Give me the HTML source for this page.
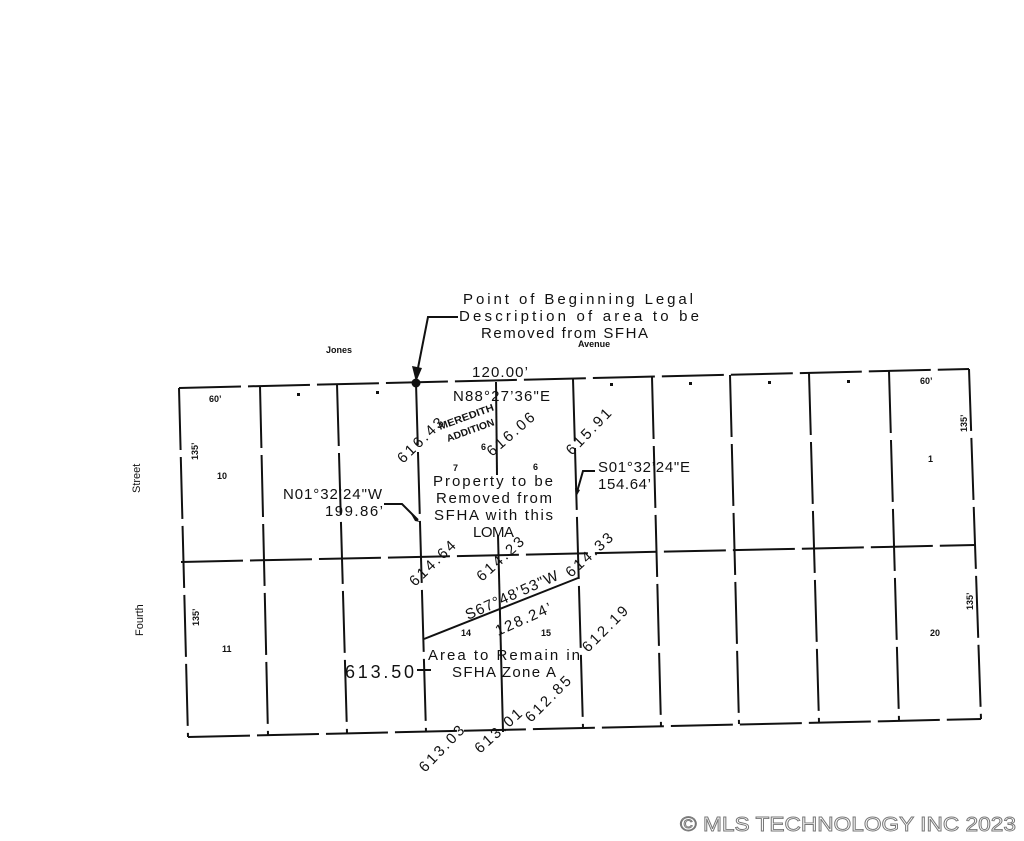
<!DOCTYPE html>
<html><head><meta charset="utf-8"><style>
html,body{margin:0;padding:0;background:#fff;}
svg{display:block;}
text{font-family:"Liberation Sans",sans-serif;fill:#111;}
</style></head><body>
<svg width="1024" height="841" viewBox="0 0 1024 841" xmlns="http://www.w3.org/2000/svg">
<g stroke="#111" stroke-width="2" fill="none" stroke-dasharray="62 7">
<line x1="179" y1="388" x2="969" y2="369"/>
<line x1="181" y1="562" x2="975" y2="545"/>
<line x1="188" y1="737" x2="981" y2="719"/>
<line x1="179" y1="388" x2="188" y2="737"/>
<line x1="969" y1="369" x2="981" y2="719"/>
<line x1="260" y1="386" x2="268" y2="735"/>
<line x1="337" y1="384" x2="347" y2="733"/>
<line x1="416" y1="383" x2="426" y2="732"/>
<line x1="573" y1="379" x2="583" y2="728"/>
<line x1="652" y1="377" x2="661" y2="726"/>
<line x1="730" y1="375" x2="739" y2="724"/>
<line x1="809" y1="373" x2="819" y2="722"/>
<line x1="889" y1="371" x2="899" y2="720"/>
</g>
<g stroke="#111" stroke-width="2" fill="none">
<line x1="496" y1="382" x2="497" y2="475"/>
<line x1="498" y1="535" x2="503" y2="732"/>
<line x1="424" y1="639" x2="578" y2="578"/>
<polyline points="458,317 428,317 418,368"/>
<polyline points="384,504 402,504 418,520"/>
<polyline points="595,471 583,471 577,492"/>
<line x1="417" y1="670" x2="431" y2="670"/>
</g>
<circle cx="416" cy="383" r="4.5" fill="#111"/>
<polygon points="412,366 422,368 416,382" fill="#111"/>
<polygon points="575,488 580,490 576,497" fill="#111"/>
<polygon points="411,514 420,522 415,521" fill="#111"/>
<g font-size="15">
<text x="463" y="304" textLength="230" lengthAdjust="spacing">Point of Beginning Legal</text>
<text x="459" y="321" textLength="240" lengthAdjust="spacing">Description of area to be</text>
<text x="481" y="338" textLength="167" lengthAdjust="spacing">Removed from SFHA</text>
<text x="472" y="377" textLength="56" lengthAdjust="spacing">120.00’</text>
<text x="453" y="401" textLength="97" lengthAdjust="spacing">N88°27’36"E</text>
<text x="433" y="486" textLength="120" lengthAdjust="spacing">Property to be</text>
<text x="436" y="503" textLength="116" lengthAdjust="spacing">Removed from</text>
<text x="434" y="520" textLength="119" lengthAdjust="spacing">SFHA with this</text>
<text x="473" y="537" textLength="41" lengthAdjust="spacing">LOMA</text>
<text x="283" y="499" textLength="99" lengthAdjust="spacing">N01°32’24"W</text>
<text x="325" y="516" textLength="58" lengthAdjust="spacing">199.86’</text>
<text x="598" y="472" textLength="92" lengthAdjust="spacing">S01°32’24"E</text>
<text x="598" y="489" textLength="53" lengthAdjust="spacing">154.64’</text>
<text x="428" y="660" textLength="152" lengthAdjust="spacing">Area to Remain in</text>
<text x="452" y="677" textLength="104" lengthAdjust="spacing">SFHA Zone A</text>
<text x="345" y="678" font-size="18" textLength="69" lengthAdjust="spacing">613.50</text>
<text transform="translate(403,464) rotate(-44)" textLength="58" lengthAdjust="spacing">616.43</text>
<text transform="translate(492,457) rotate(-41)" textLength="58" lengthAdjust="spacing">616.06</text>
<text transform="translate(572,456) rotate(-46)" textLength="58" lengthAdjust="spacing">615.91</text>
<text transform="translate(415,587) rotate(-44)" textLength="58" lengthAdjust="spacing">614.64</text>
<text transform="translate(482,582) rotate(-42)" textLength="58" lengthAdjust="spacing">614.23</text>
<text transform="translate(571,578) rotate(-42)" textLength="58" lengthAdjust="spacing">614.33</text>
<text transform="translate(468,620) rotate(-24)" textLength="100" lengthAdjust="spacing">S67°48’53"W</text>
<text transform="translate(498,636) rotate(-24)" textLength="60" lengthAdjust="spacing">128.24’</text>
<text transform="translate(588,653) rotate(-45)" textLength="58" lengthAdjust="spacing">612.19</text>
<text transform="translate(531,723) rotate(-45)" textLength="58" lengthAdjust="spacing">612.85</text>
<text transform="translate(480,754) rotate(-42)" textLength="58" lengthAdjust="spacing">613.01</text>
<text transform="translate(425,773) rotate(-46)" textLength="58" lengthAdjust="spacing">613.03</text>
</g>
<g font-size="10" font-weight="bold">
<text transform="translate(440,430) rotate(-20)" textLength="58" lengthAdjust="spacingAndGlyphs">MEREDITH</text>
<text transform="translate(448,442) rotate(-20)" textLength="50" lengthAdjust="spacingAndGlyphs">ADDITION</text>
</g>
<g font-size="9" font-weight="bold">
<text x="453" y="471">7</text><text x="533" y="470">6</text><text x="481" y="450">6</text>
<text x="461" y="636">14</text><text x="541" y="636">15</text>
<text x="217" y="479">10</text><text x="222" y="652">11</text>
<text x="928" y="462">1</text><text x="930" y="636">20</text>
<text x="209" y="402">60’</text><text x="920" y="384">60’</text>
<text x="326" y="353">Jones</text><text x="578" y="347">Avenue</text>
<text transform="translate(198,460) rotate(-90)">135’</text>
<text transform="translate(199,626) rotate(-90)">135’</text>
<text transform="translate(967,432) rotate(-90)">135’</text>
<text transform="translate(973,610) rotate(-90)">135’</text>
<text transform="translate(140,493) rotate(-90)" font-size="11" font-weight="normal">Street</text>
<text transform="translate(143,636) rotate(-90)" font-size="11" font-weight="normal">Fourth</text>
</g>
<g fill="#111">
<rect x="297" y="393" width="3" height="3"/><rect x="376" y="391" width="3" height="3"/>
<rect x="610" y="383" width="3" height="3"/><rect x="689" y="382" width="3" height="3"/>
<rect x="768" y="381" width="3" height="3"/><rect x="847" y="380" width="3" height="3"/>
</g>
<text x="680" y="831" font-size="20" textLength="336" lengthAdjust="spacingAndGlyphs" style="fill:#fff;stroke:#777;stroke-width:0.9">© MLS TECHNOLOGY INC 2023</text>
</svg>
</body></html>
